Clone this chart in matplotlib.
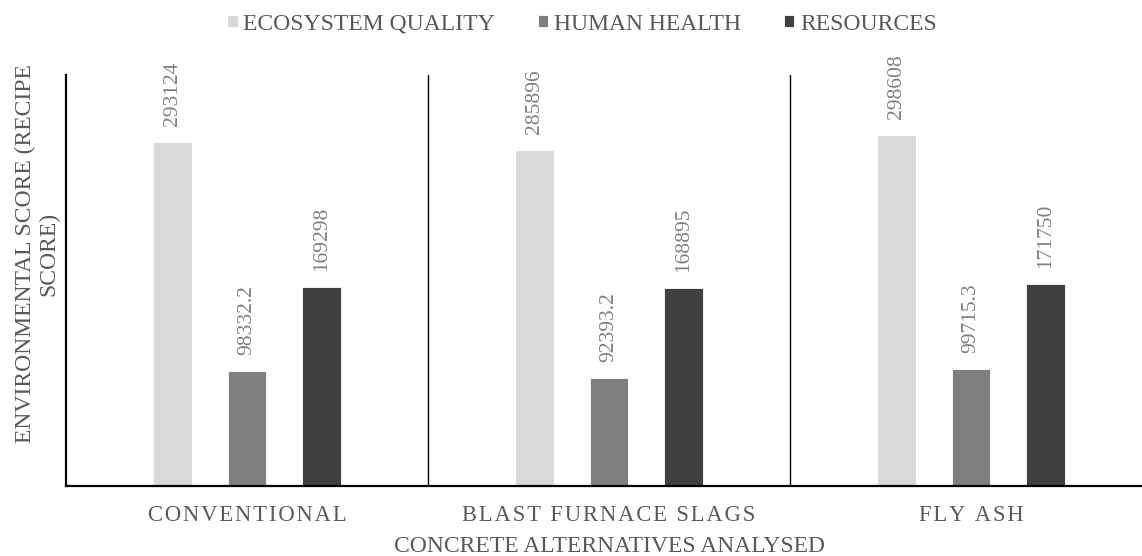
import matplotlib
matplotlib.use("Agg")
import matplotlib.pyplot as plt
import numpy as np

categories = ["CONVENTIONAL", "BLAST FURNACE SLAGS", "FLY ASH"]
series_names = ["ECOSYSTEM QUALITY", "HUMAN HEALTH", "RESOURCES"]
ecosystem = [293124, 285896, 298608]
human_health = [98332.2, 92393.2, 99715.3]
resources = [169298, 168895, 171750]
label_text = [["293124", "285896", "298608"],
              ["98332.2", "92393.2", "99715.3"],
              ["169298", "168895", "171750"]]
colors = ["#d9d9d9", "#7f7f7f", "#404040"]

plt.rcParams['font.family'] = ['Liberation Serif', 'DejaVu Serif']
W, H = 1142, 556
fig = plt.figure(figsize=(W / 100, H / 100), dpi=100)
ax = fig.add_axes([66 / W, 70 / H, 1086 / W, 411 / H])

x = np.arange(len(categories))
offsets = [-0.206, 0.0, 0.206]
bw = 0.106
data = [ecosystem, human_health, resources]
for k, (vals, col, name) in enumerate(zip(data, colors, series_names)):
    bars = ax.bar(x + offsets[k], vals, width=bw, color=col, label=name,
                  edgecolor="white", linewidth=0.6, zorder=2)
    for b, t in zip(bars, label_text[k]):
        ax.annotate(t, (b.get_x() + b.get_width() / 2, b.get_height()),
                    xytext=(0, 11.5), textcoords="offset points",
                    rotation=90, ha="center", va="bottom",
                    fontsize=15.5, color="#808080")

ax.set_xlim(-0.5, 2.5)
ax.set_ylim(0, 350000)
for sep in [0.5, 1.5]:
    ax.axvline(sep, color="black", linewidth=1.0, zorder=1)

for s in ["top", "right"]:
    ax.spines[s].set_visible(False)
for s in ["left", "bottom"]:
    ax.spines[s].set_color("black")
    ax.spines[s].set_linewidth(1.6)
ax.set_yticks([])


def spaced(s):
    return "\u200a".join(list(s))


ax.set_xticks(x)
ax.set_xticklabels([spaced(c) for c in categories], fontsize=16.3, color="#595959")
ax.tick_params(axis="x", length=0, pad=14)

fig.text(609 / W, 1 - 547 / H, "CONCRETE ALTERNATIVES ANALYSED", ha="center", va="center",
         fontsize=17, color="#595959")
fig.text(37 / W, 1 - 254 / H, "ENVIRONMENTAL SCORE (RECIPE\nSCORE)", ha="center", va="center",
         rotation=90, multialignment="center", fontsize=17, color="#595959", linespacing=1.15)

fig.legend(loc="center", bbox_to_anchor=(582 / W, 1 - 24 / H), ncol=3, frameon=False,
           fontsize=17, handlelength=0.45, handleheight=0.45, handletextpad=0.25,
           columnspacing=1.8, labelcolor="#595959")

fig.savefig("out.png", dpi=100)
